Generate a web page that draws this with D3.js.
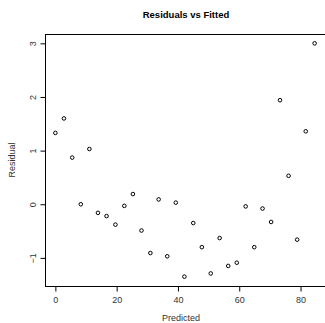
<!DOCTYPE html>
<html>
<head>
<meta charset="utf-8">
<script src="https://cdn.jsdelivr.net/npm/d3@7"></script>
<style>
  html, body { margin: 0; padding: 0; background: #fff; }
  svg { display: block; font-family: "Liberation Sans", Arial, Helvetica, sans-serif; }
</style>
</head>
<body>
<script>
const predicted = [0, 2.8, 5.5, 8.3, 11.1, 13.9, 16.7, 19.6, 22.5, 25.3, 28.1, 31.0, 33.7, 36.5, 39.3, 42.1,
                   45.0, 47.8, 50.7, 53.6, 56.4, 59.2, 62.1, 64.9, 67.6, 70.4, 73.3, 76.1, 78.9, 81.7, 84.6];
const residual = [1.33, 1.60, 0.87, 0.00, 1.03, -0.16, -0.22, -0.38, -0.03, 0.19, -0.49, -0.91, 0.09, -0.97, 0.03, -1.35,
                  -0.35, -0.80, -1.29, -0.63, -1.15, -1.09, -0.04, -0.80, -0.08, -0.33, 1.94, 0.53, -0.66, 1.36, 3.00];
const xTicks = [0, 20, 40, 60, 80];
const yTicks = [-1, 0, 1, 2, 3];
const title = "Residuals vs Fitted";
const xLabel = "Predicted";
const yLabel = "Residual";

const W = 325, H = 323;
const mLeft = 45, mRight = 325, mTop = 34, mBottom = 286;
const FONT = "Liberation Sans, Arial, sans-serif";

function padExtent(arr) {
  const [a, b] = d3.extent(arr);
  const p = (b - a) * 0.04;
  return [a - p, b + p];
}

const x = d3.scaleLinear().domain(padExtent(predicted)).range([mLeft, mRight]);
const y = d3.scaleLinear().domain(padExtent(residual)).range([mBottom, mTop]);

const svg = d3.select("body").append("svg").attr("width", W).attr("height", H);

svg.append("rect")
  .attr("x", mLeft + 0.5).attr("y", mTop + 0.5)
  .attr("width", mRight - mLeft).attr("height", mBottom - mTop)
  .attr("fill", "none").attr("stroke", "#000").attr("stroke-width", 1);

const xAxis = d3.axisBottom(x).tickValues(xTicks).tickFormat(d3.format("d"))
  .tickSize(5).tickPadding(5).tickSizeOuter(0);
const gx = svg.append("g").attr("transform", `translate(0,${mBottom + 0.5})`).call(xAxis);
gx.select(".domain").remove();
gx.selectAll("text").attr("font-size", 9).attr("fill", "#333").attr("font-family", FONT);

const yAxis = d3.axisLeft(y).tickValues(yTicks).tickFormat(d3.format("d"))
  .tickSize(5).tickSizeOuter(0);
const gy = svg.append("g").attr("transform", `translate(${mLeft + 0.5},0)`).call(yAxis);
gy.select(".domain").remove();
gy.selectAll(".tick text").each(function() {
  d3.select(this)
   .attr("x", null).attr("dy", null)
   .attr("text-anchor", "middle")
   .attr("transform", "translate(-13,0) rotate(-90)")
   .attr("dy", "0.35em")
   .attr("font-size", 9).attr("fill", "#333")
   .attr("font-family", FONT);
});

svg.append("g").selectAll("circle")
  .data(predicted.map((p, i) => [p, residual[i]]))
  .join("circle")
  .attr("cx", d => x(d[0]))
  .attr("cy", d => y(d[1]))
  .attr("r", 1.8)
  .attr("fill", "none")
  .attr("stroke", "#000")
  .attr("stroke-width", 1);

svg.append("text")
  .attr("x", (mLeft + mRight) / 2 + 1).attr("y", 18)
  .attr("text-anchor", "middle").attr("font-weight", "bold").attr("font-size", 9.5)
  .attr("font-family", FONT)
  .text(title);

svg.append("text")
  .attr("x", (mLeft + mRight) / 2 - 4).attr("y", 321)
  .attr("text-anchor", "middle").attr("font-size", 9).attr("fill", "#333")
  .attr("font-family", FONT)
  .text(xLabel);

svg.append("text")
  .attr("transform", `translate(15,${(mTop + mBottom) / 2}) rotate(-90)`)
  .attr("text-anchor", "middle").attr("font-size", 9).attr("fill", "#333")
  .attr("font-family", FONT)
  .text(yLabel);
</script>
</body>
</html>
